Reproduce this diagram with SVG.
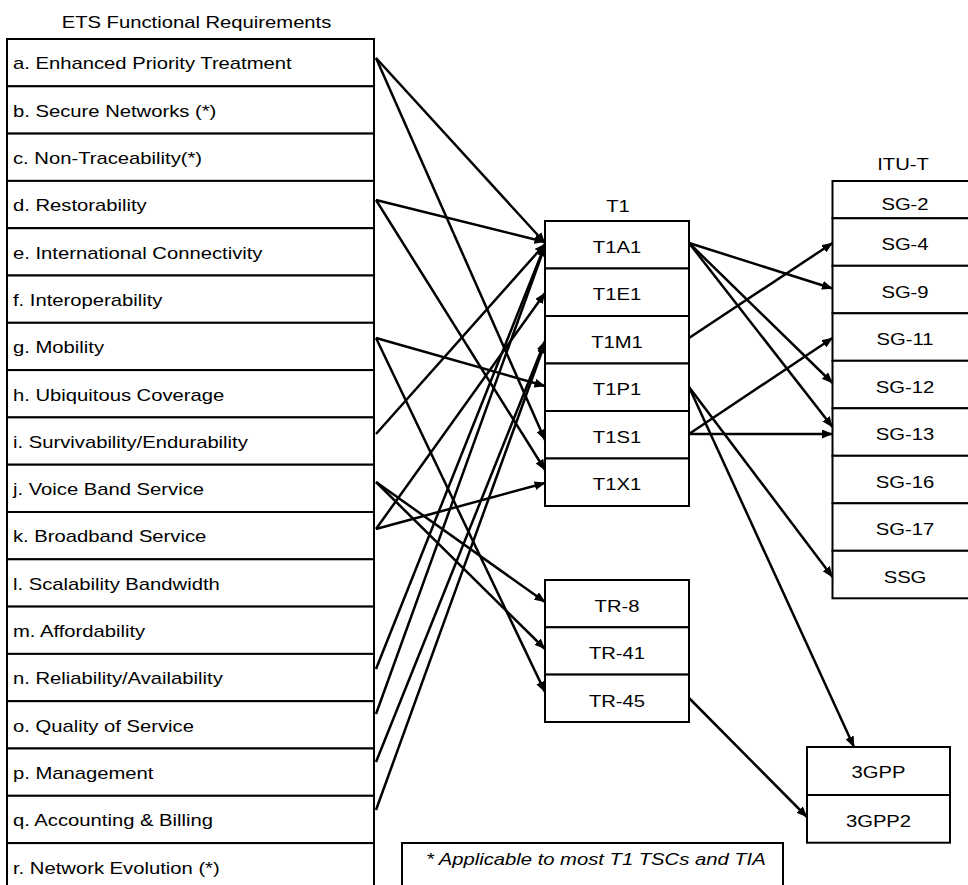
<svg xmlns="http://www.w3.org/2000/svg" width="968" height="885" viewBox="0 0 968 885">
<style>
text{font-family:"Liberation Sans",Arial,sans-serif;font-size:17px;fill:#000}
.c{text-anchor:middle}
.it{font-style:italic}
rect{fill:#fff;stroke:#000;stroke-width:2}
#connectors line{stroke:#000;stroke-width:2.5;marker-end:url(#ah)}
</style>
<defs>
<marker id="ah" viewBox="0 0 11 9" refX="10.5" refY="4.5" markerWidth="11" markerHeight="9" markerUnits="userSpaceOnUse" orient="auto"><path d="M0,0 L11,4.5 L0,9 z" fill="#000"/></marker>
</defs>
<rect x="0" y="0" width="968" height="885" style="stroke:none"/>

<text class="c" transform="translate(196.5 28.3) scale(1.19 1)">ETS Functional Requirements</text>
<text class="c" transform="translate(618 212) scale(1.19 1)">T1</text>
<text class="c" transform="translate(903 170) scale(1.19 1)">ITU-T</text>

<g id="req-a"><rect x="7" y="39" width="367" height="47.3"/><text transform="translate(13 69.4) scale(1.19 1)">a. Enhanced Priority Treatment</text></g>
<g id="req-b"><rect x="7" y="86.3" width="367" height="47.3"/><text transform="translate(13 116.7) scale(1.19 1)">b. Secure Networks (*)</text></g>
<g id="req-c"><rect x="7" y="133.6" width="367" height="47.3"/><text transform="translate(13 164) scale(1.19 1)">c. Non-Traceability(*)</text></g>
<g id="req-d"><rect x="7" y="180.9" width="367" height="47.3"/><text transform="translate(13 211.3) scale(1.19 1)">d. Restorability</text></g>
<g id="req-e"><rect x="7" y="228.2" width="367" height="47.3"/><text transform="translate(13 258.6) scale(1.19 1)">e. International Connectivity</text></g>
<g id="req-f"><rect x="7" y="275.5" width="367" height="47.3"/><text transform="translate(13 305.9) scale(1.19 1)">f. Interoperability</text></g>
<g id="req-g"><rect x="7" y="322.8" width="367" height="47.3"/><text transform="translate(13 353.2) scale(1.19 1)">g. Mobility</text></g>
<g id="req-h"><rect x="7" y="370.1" width="367" height="47.3"/><text transform="translate(13 400.5) scale(1.19 1)">h. Ubiquitous Coverage</text></g>
<g id="req-i"><rect x="7" y="417.4" width="367" height="47.3"/><text transform="translate(13 447.8) scale(1.19 1)">i. Survivability/Endurability</text></g>
<g id="req-j"><rect x="7" y="464.7" width="367" height="47.3"/><text transform="translate(13 495.1) scale(1.19 1)">j. Voice Band Service</text></g>
<g id="req-k"><rect x="7" y="512" width="367" height="47.3"/><text transform="translate(13 542.4) scale(1.19 1)">k. Broadband Service</text></g>
<g id="req-l"><rect x="7" y="559.3" width="367" height="47.3"/><text transform="translate(13 589.7) scale(1.19 1)">l. Scalability Bandwidth</text></g>
<g id="req-m"><rect x="7" y="606.6" width="367" height="47.3"/><text transform="translate(13 637) scale(1.19 1)">m. Affordability</text></g>
<g id="req-n"><rect x="7" y="653.9" width="367" height="47.3"/><text transform="translate(13 684.3) scale(1.19 1)">n. Reliability/Availability</text></g>
<g id="req-o"><rect x="7" y="701.2" width="367" height="47.3"/><text transform="translate(13 731.6) scale(1.19 1)">o. Quality of Service</text></g>
<g id="req-p"><rect x="7" y="748.5" width="367" height="47.3"/><text transform="translate(13 778.9) scale(1.19 1)">p. Management</text></g>
<g id="req-q"><rect x="7" y="795.8" width="367" height="47.3"/><text transform="translate(13 826.2) scale(1.19 1)">q. Accounting &amp; Billing</text></g>
<g id="req-r"><rect x="7" y="843.1" width="367" height="50"/><text transform="translate(13 873.5) scale(1.19 1)">r. Network Evolution (*)</text></g>

<g id="t1a1"><rect x="545" y="221" width="144" height="47.5"/><text class="c" transform="translate(617 252.5) scale(1.19 1)">T1A1</text></g>
<g id="t1e1"><rect x="545" y="268.5" width="144" height="47.5"/><text class="c" transform="translate(617 300) scale(1.19 1)">T1E1</text></g>
<g id="t1m1"><rect x="545" y="316" width="144" height="47.5"/><text class="c" transform="translate(617 347.8) scale(1.19 1)">T1M1</text></g>
<g id="t1p1"><rect x="545" y="363.5" width="144" height="47.5"/><text class="c" transform="translate(617 395.3) scale(1.19 1)">T1P1</text></g>
<g id="t1s1"><rect x="545" y="411" width="144" height="47.5"/><text class="c" transform="translate(617 442.8) scale(1.19 1)">T1S1</text></g>
<g id="t1x1"><rect x="545" y="458.5" width="144" height="47.5"/><text class="c" transform="translate(617 490.3) scale(1.19 1)">T1X1</text></g>

<g id="tr8"><rect x="545" y="580" width="144" height="47.3"/><text class="c" transform="translate(617 612) scale(1.19 1)">TR-8</text></g>
<g id="tr41"><rect x="545" y="627.3" width="144" height="47.3"/><text class="c" transform="translate(617 659.3) scale(1.19 1)">TR-41</text></g>
<g id="tr45"><rect x="545" y="674.6" width="144" height="47.4"/><text class="c" transform="translate(617 706.6) scale(1.19 1)">TR-45</text></g>

<g id="sg2"><rect x="832.5" y="181" width="145" height="37.3"/><text class="c" transform="translate(905 210) scale(1.19 1)">SG-2</text></g>
<g id="sg4"><rect x="832.5" y="218.3" width="145" height="47.5"/><text class="c" transform="translate(905 250.3) scale(1.19 1)">SG-4</text></g>
<g id="sg9"><rect x="832.5" y="265.8" width="145" height="47.5"/><text class="c" transform="translate(905 297.8) scale(1.19 1)">SG-9</text></g>
<g id="sg11"><rect x="832.5" y="313.3" width="145" height="47.5"/><text class="c" transform="translate(905 345.3) scale(1.19 1)">SG-11</text></g>
<g id="sg12"><rect x="832.5" y="360.8" width="145" height="47.5"/><text class="c" transform="translate(905 392.8) scale(1.19 1)">SG-12</text></g>
<g id="sg13"><rect x="832.5" y="408.3" width="145" height="47.5"/><text class="c" transform="translate(905 440.3) scale(1.19 1)">SG-13</text></g>
<g id="sg16"><rect x="832.5" y="455.8" width="145" height="47.5"/><text class="c" transform="translate(905 487.8) scale(1.19 1)">SG-16</text></g>
<g id="sg17"><rect x="832.5" y="503.3" width="145" height="47.5"/><text class="c" transform="translate(905 535.3) scale(1.19 1)">SG-17</text></g>
<g id="ssg"><rect x="832.5" y="550.8" width="145" height="47.5"/><text class="c" transform="translate(905 582.8) scale(1.19 1)">SSG</text></g>

<g id="gpp"><rect x="807" y="747" width="143" height="48"/><text class="c" transform="translate(878.5 778) scale(1.19 1)">3GPP</text></g>
<g id="gpp2"><rect x="807" y="795" width="143" height="47.7"/><text class="c" transform="translate(878.5 826.5) scale(1.19 1)">3GPP2</text></g>

<g id="note"><rect x="402" y="843" width="381" height="60"/><text class="it" transform="translate(426 865) scale(1.19 1)">* Applicable to most T1 TSCs and TIA</text></g>

<g id="connectors">
<line x1="376" y1="58" x2="545" y2="243"/>
<line x1="376" y1="58" x2="545" y2="440"/>
<line x1="376" y1="200" x2="545" y2="242"/>
<line x1="376" y1="200" x2="545" y2="470"/>
<line x1="376" y1="338" x2="545" y2="386"/>
<line x1="376" y1="338" x2="545" y2="692"/>
<line x1="376" y1="434" x2="545" y2="244"/>
<line x1="376" y1="482" x2="545" y2="602"/>
<line x1="376" y1="482" x2="545" y2="649"/>
<line x1="376" y1="529" x2="545" y2="483"/>
<line x1="376" y1="529" x2="545" y2="293"/>
<line x1="376" y1="669" x2="545" y2="245"/>
<line x1="376" y1="714" x2="545" y2="246"/>
<line x1="376" y1="762" x2="545" y2="341"/>
<line x1="376" y1="810" x2="545" y2="343"/>
<line x1="689" y1="243" x2="832.5" y2="288.5"/>
<line x1="689" y1="243" x2="832.5" y2="383"/>
<line x1="689" y1="243" x2="832.5" y2="427"/>
<line x1="689" y1="338" x2="832.5" y2="243"/>
<line x1="689" y1="387" x2="832.5" y2="577"/>
<line x1="689" y1="387" x2="854" y2="747"/>
<line x1="689" y1="434" x2="832.5" y2="338"/>
<line x1="689" y1="434" x2="832.5" y2="434"/>
<line x1="689" y1="698" x2="807" y2="817"/>
</g>
</svg>
